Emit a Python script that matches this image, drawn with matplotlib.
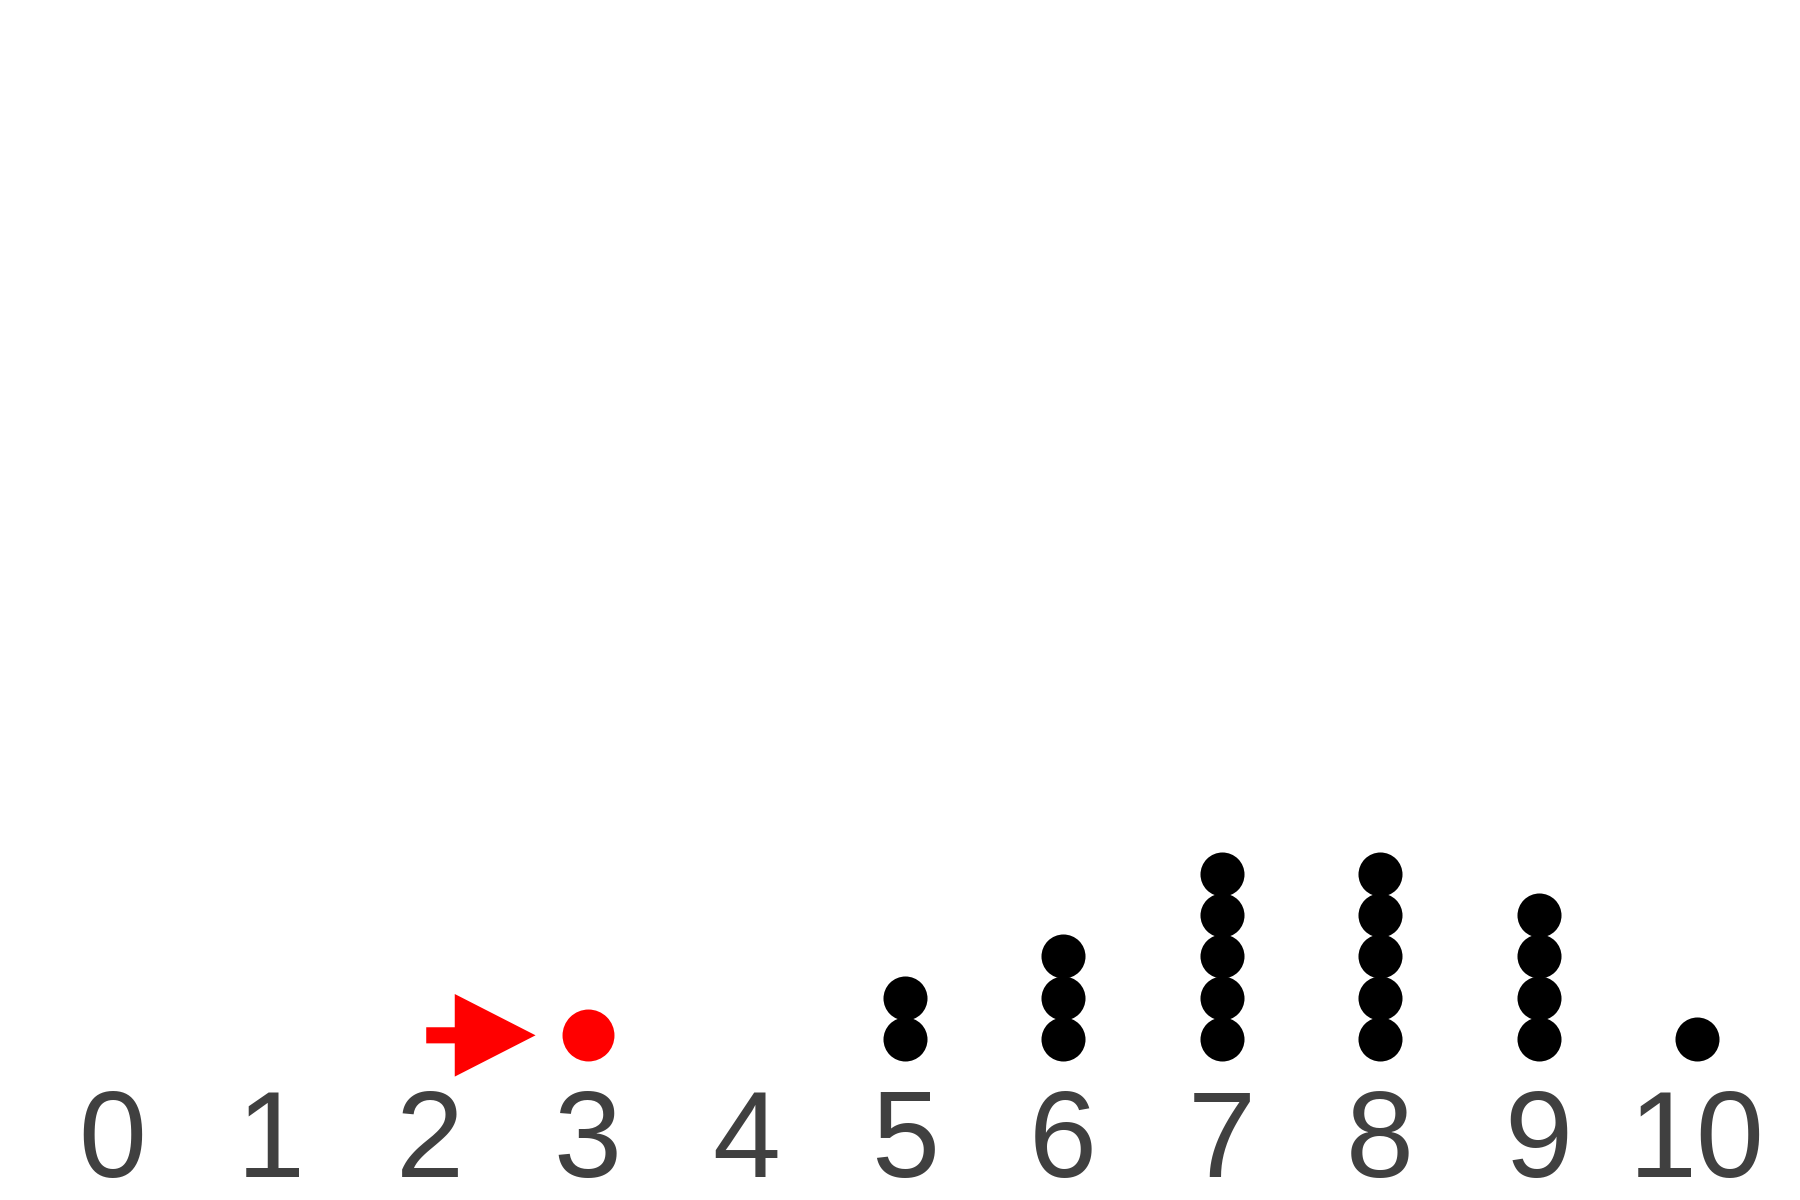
import matplotlib
matplotlib.use("Agg")
import matplotlib.pyplot as plt
from matplotlib.patches import FancyArrow

# Data
values = [3, 5, 6, 7, 8, 9, 10]
counts = [1, 2, 3, 5, 5, 4, 1]
highlight_value = 3
tick_values = list(range(0, 11))
tick_labels = [str(v) for v in tick_values]

fig = plt.figure(figsize=(18, 12), dpi=100)
ax = fig.add_axes([0, 0, 1, 1])
ax.set_xlim(-0.710, 10.650)
ax.set_ylim(-2.898, 26.16)
ax.axis("off")

black_ms = 31.7
red_ms = 37.4
ypx = 41.3  # pixels per y unit
for v, c in zip(values, counts):
    if v == highlight_value:
        off = ((red_ms - black_ms) / 2) / 0.72 / ypx
        ax.plot([v] * c, [k + 1 + off for k in range(c)], "o", color="#ff0000",
                markersize=red_ms, markeredgewidth=0)
    else:
        ax.plot([v] * c, [k + 1 for k in range(c)], "o", color="black",
                markersize=black_ms, markeredgewidth=0)

# arrow pointing to highlighted value
arr_y = 1.09
ax.add_patch(FancyArrow(highlight_value - 1.02, arr_y, 0.69, 0,
                        width=0.39, head_width=2.0, head_length=0.51,
                        length_includes_head=True, color="#ff0000", lw=0))

# tick labels
label_y = 1 - (1176.7 - 1039) / ypx
for v, lab in zip(tick_values, tick_labels):
    ax.text(v, label_y, lab, ha="center", va="baseline", fontsize=88,
            family=["Liberation Sans"], color="#404040")

fig.savefig("out.png", dpi=100)
